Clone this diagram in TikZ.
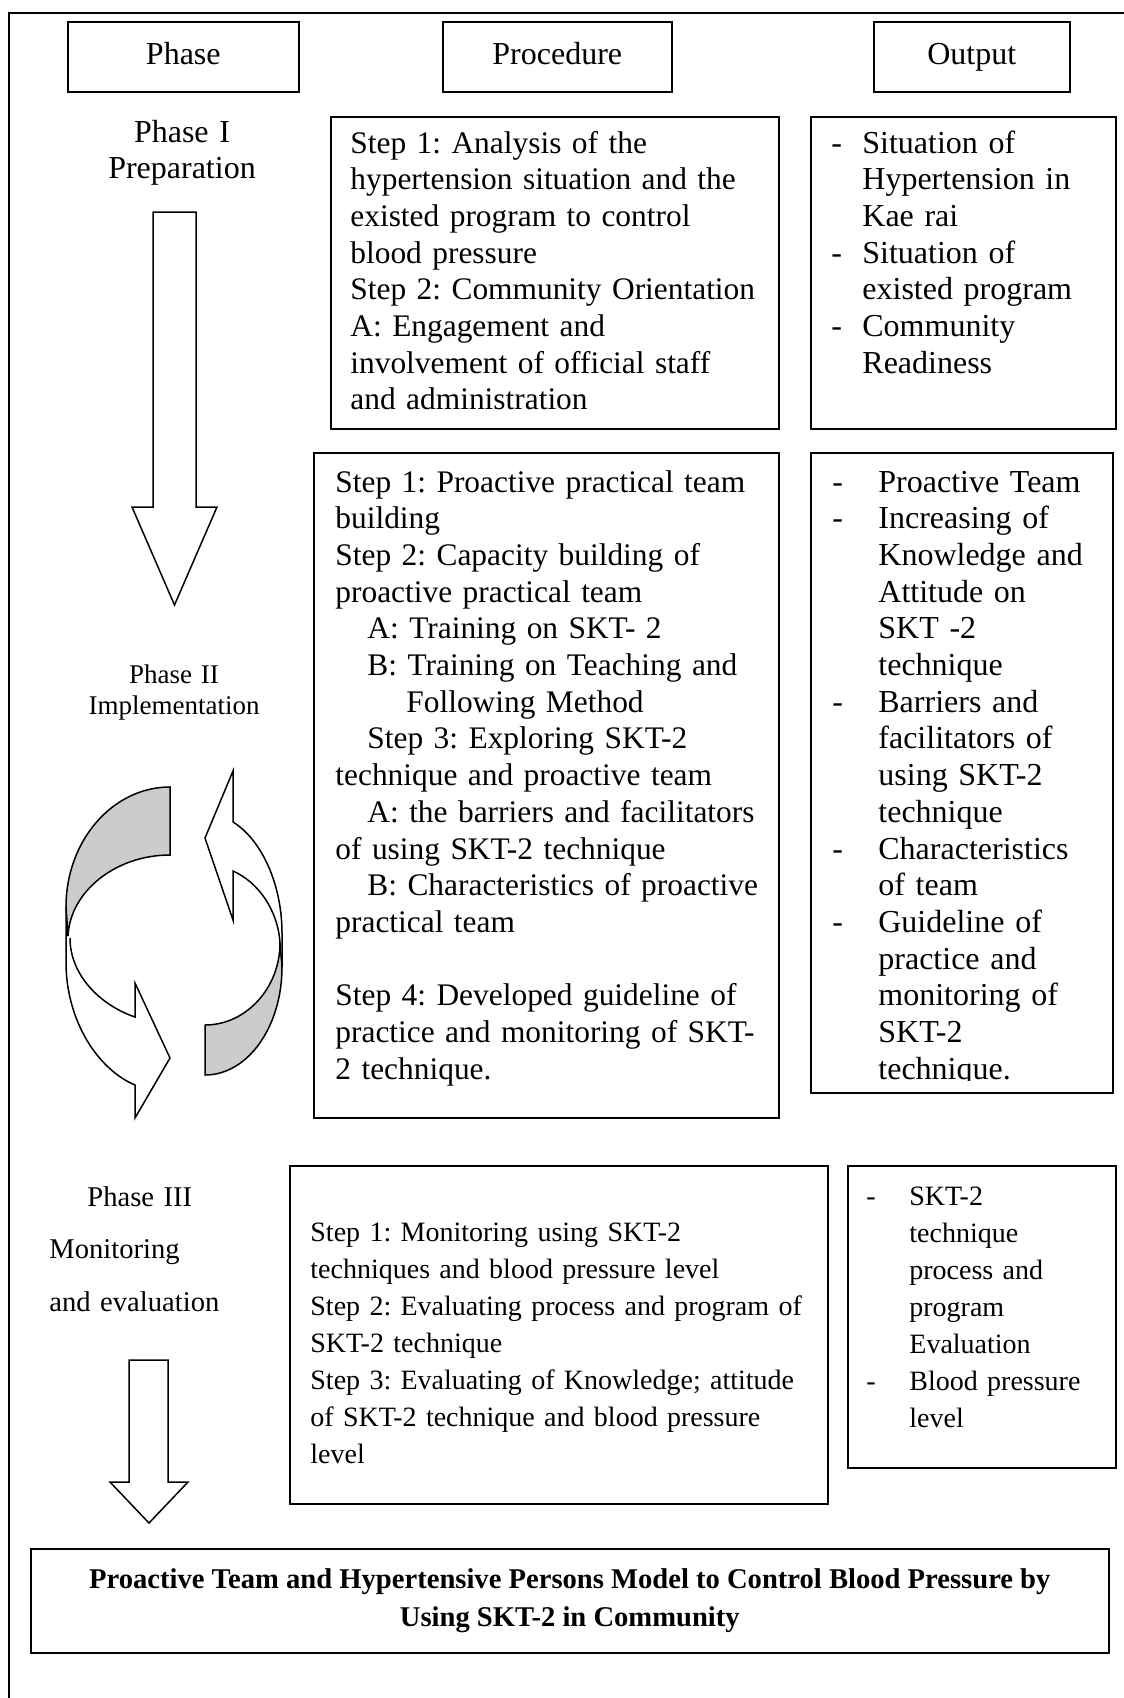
\documentclass[tikz,border=0pt]{standalone}
\usepackage{fontspec}
\setmainfont{Liberation Serif}
\usetikzlibrary{positioning}

\frenchspacing
\newcommand{\itemdash}[1]{\makebox[#1][l]{-}}

\begin{document}
\begin{tikzpicture}[
        x=0.5pt, y=-0.5pt, % one unit = one pixel of the page, y going down
        panel/.style={draw, line width=0.8pt, inner sep=0pt, anchor=north west},
        headbox/.style={panel, minimum height=35pt, text height=11.2pt, text depth=3.5pt, font=\fontsize{16}{18.35}\selectfont},
        txt/.style={anchor=base west, inner sep=0pt, align=left, font=\fontsize{16}{18.35}\selectfont},
        proctxt/.style={txt, font=\fontsize{15.7}{18.35}\selectfont},
        smalltxt/.style={txt, font=\fontsize{14}{18.55}\selectfont},
        phaselabel/.style={anchor=base, inner sep=0pt, align=center, text width=110pt, font=\fontsize{16}{18.35}\selectfont},
        blockarrow/.style={draw, line width=0.75pt, line join=miter},
        band/.style={draw, line width=0.75pt, fill=black!20}
    ]
    \useasboundingbox (0,0) rectangle (1124,1698);

    % Frame
    \coordinate (frameTR) at (1124,13);
    \coordinate (frameTL) at (9,13);
    \coordinate (frameBL) at (9,1698);
    \draw[line width=0.9pt] (frameTR) -- (frameTL) -- (frameBL);

    % Column heads
    \node[headbox, minimum width=115.5pt] (hPhase) at (67,21) {Phase};
    \node[headbox, minimum width=114.5pt] (hProc) at (442,21) {Procedure};
    \node[headbox, minimum width=98pt] (hOut) at (873,21) {Output};

    % Phase I
    \node[phaselabel] (phaseI) at (182,142) {Phase I\\Preparation};
    \draw[blockarrow] (153,212) -- (196,212) -- (196,507) -- (217,507)
        -- (174.5,605) -- (132,507) -- (153,507) -- cycle;

    \node[panel, minimum width=224pt, minimum height=156pt] (proc1) at (330,116) {};
    \node[proctxt, text width=215pt] (proc1txt) at (350,153) {Step 1: Analysis of the\\
        hypertension situation and the\\
        existed program to control\\
        blood pressure\\
        Step 2: Community Orientation\\
        A: Engagement and\\
        involvement of official staff\\
        and administration};

    \node[panel, minimum width=152.5pt, minimum height=156pt] (out1) at (810,116) {};
    \node[txt, text width=140pt] (out1txt) at (831,153) {\itemdash{15.5pt}Situation of\\
        \hspace*{15.5pt}Hypertension in\\
        \hspace*{15.5pt}Kae rai\\
        \itemdash{15.5pt}Situation of\\
        \hspace*{15.5pt}existed program\\
        \itemdash{15.5pt}Community\\
        \hspace*{15.5pt}Readiness};

    % Phase II
    \node[phaselabel, font=\fontsize{13.5}{15.5}\selectfont] (phaseII) at (174,683) {Phase II\\Implementation};

    % circular arrows
    \draw[band] (170,787) .. controls (112.6,787) and (66,840.7) .. (66,907)
        -- (68,936) .. controls (70,892) and (115,855) .. (170,855) -- cycle;
    \draw[blockarrow] (66,907) -- (66,962) .. controls (66,1022) and (99,1070) .. (135,1085)
        -- (135,1118) -- (170,1058) -- (135,983) -- (135,1017)
        .. controls (100,1005) and (70,975) .. (70,938);
    \draw[band] (205,1075) .. controls (247.5,1075) and (282,1027) .. (282,967)
        -- (280,943) .. controls (280,988) and (246,1025) .. (205,1025) -- cycle;
    \draw[blockarrow] (282,967) -- (282,933) .. controls (282,885) and (262,840) .. (233,822)
        -- (233,771) -- (205,838) -- (233,920) -- (233,871)
        .. controls (258,882) and (278,910) .. (280,943);

    \node[panel, minimum width=232.5pt, minimum height=332.5pt] (proc2) at (313,452) {};
    \node[proctxt, text width=225pt] (proc2txt) at (335,492) {Step 1: Proactive practical team\\
        building\\
        Step 2: Capacity building of\\
        proactive practical team\\
        \hspace*{16pt}A: Training on SKT- 2\\
        \hspace*{16pt}B: Training on Teaching and\\
        \hspace*{35.5pt}Following Method\\
        \hspace*{16pt}Step 3: Exploring SKT-2\\
        technique and proactive team\\
        \hspace*{16pt}A: the barriers and facilitators\\
        of using SKT-2 technique\\
        \hspace*{16pt}B: Characteristics of proactive\\
        practical team\\
        \mbox{}\\
        Step 4: Developed guideline of\\
        practice and monitoring of SKT-\\
        2 technique.};

    \node[panel, minimum width=151pt, minimum height=320pt] (out2) at (810,452) {};
    \begin{scope}
        \clip (810,452) rectangle (1112,1080);
        \node[txt, text width=140pt] (out2txt) at (832,492) {\itemdash{23pt}Proactive Team\\
            \itemdash{23pt}Increasing of\\
            \hspace*{23pt}Knowledge and\\
            \hspace*{23pt}Attitude on\\
            \hspace*{23pt}SKT -2\\
            \hspace*{23pt}technique\\
            \itemdash{23pt}Barriers and\\
            \hspace*{23pt}facilitators of\\
            \hspace*{23pt}using SKT-2\\
            \hspace*{23pt}technique\\
            \itemdash{23pt}Characteristics\\
            \hspace*{23pt}of team\\
            \itemdash{23pt}Guideline of\\
            \hspace*{23pt}practice and\\
            \hspace*{23pt}monitoring of\\
            \hspace*{23pt}SKT-2\\
            \hspace*{23pt}technique.};
    \end{scope}

    % Phase III
    \node[txt, font=\fontsize{14.3}{26.25}\selectfont, text width=90pt] (phaseIII) at (49,1206) {\hspace*{19pt}Phase III\\
        Monitoring\\
        and evaluation};
    \draw[blockarrow] (129,1360) -- (168,1360) -- (168,1482) -- (188,1482)
        -- (149,1523) -- (110,1482) -- (129,1482) -- cycle;

    \node[panel, minimum width=269pt, minimum height=169pt] (proc3) at (289,1165) {};
    \node[smalltxt, text width=262pt] (proc3txt) at (310,1241) {Step 1: Monitoring using SKT-2\\
        techniques and blood pressure level\\
        Step 2: Evaluating process and program of\\
        SKT-2 technique\\
        Step 3: Evaluating of Knowledge; attitude\\
        of SKT-2 technique and blood pressure\\
        level};

    \node[panel, minimum width=134pt, minimum height=151pt] (out3) at (847,1165) {};
    \node[smalltxt, text width=125pt] (out3txt) at (866,1205) {\itemdash{21.5pt}SKT-2\\
        \hspace*{21.5pt}technique\\
        \hspace*{21.5pt}process and\\
        \hspace*{21.5pt}program\\
        \hspace*{21.5pt}Evaluation\\
        \itemdash{21.5pt}Blood pressure\\
        \hspace*{21.5pt}level};

    % Model
    \node[panel, minimum width=539pt, minimum height=52pt, align=center,
        font=\bfseries\fontsize{14.3}{19}\selectfont] (model) at (30,1548)
        {Proactive Team and Hypertensive Persons Model to Control Blood Pressure by\\
        Using SKT-2 in Community};
\end{tikzpicture}
\end{document}
